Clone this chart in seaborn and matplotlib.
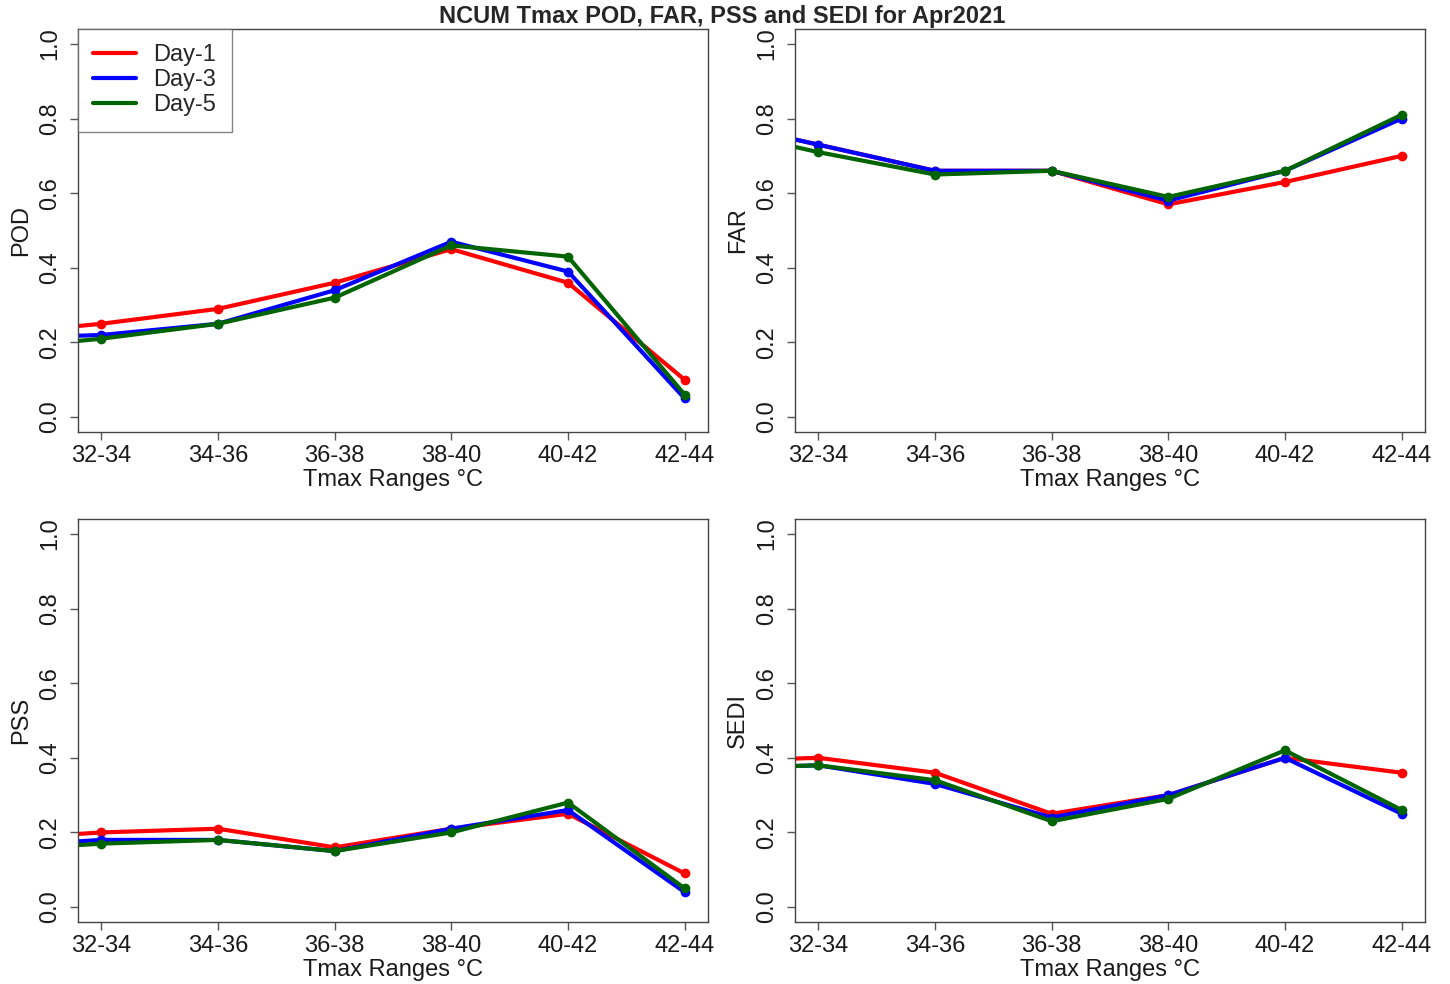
import numpy as np
import pandas as pd
import matplotlib
matplotlib.use("Agg")
import matplotlib.pyplot as plt
import seaborn as sns

# ---- data ----
# first range is drawn off-axis (clipped at the left edge, as in the reference)
ranges_all = ["30-32", "32-34", "34-36", "36-38", "38-40", "40-42", "42-44"]
shown_ranges = ranges_all[1:]
days = ["Day-1", "Day-3", "Day-5"]

pod_day1 = [0.22, 0.25, 0.29, 0.36, 0.45, 0.36, 0.10]
pod_day3 = [0.21, 0.22, 0.25, 0.34, 0.47, 0.39, 0.05]
pod_day5 = [0.18, 0.21, 0.25, 0.32, 0.46, 0.43, 0.06]

far_day1 = [0.80, 0.73, 0.66, 0.66, 0.57, 0.63, 0.70]
far_day3 = [0.80, 0.73, 0.66, 0.66, 0.58, 0.66, 0.80]
far_day5 = [0.78, 0.71, 0.65, 0.66, 0.59, 0.66, 0.81]

pss_day1 = [0.18, 0.20, 0.21, 0.16, 0.21, 0.25, 0.09]
pss_day3 = [0.16, 0.18, 0.18, 0.15, 0.21, 0.26, 0.04]
pss_day5 = [0.15, 0.17, 0.18, 0.15, 0.20, 0.28, 0.05]

sedi_day1 = [0.39, 0.40, 0.36, 0.25, 0.30, 0.40, 0.36]
sedi_day3 = [0.37, 0.38, 0.33, 0.24, 0.30, 0.40, 0.25]
sedi_day5 = [0.37, 0.38, 0.34, 0.23, 0.29, 0.42, 0.26]

yticks = [0.0, 0.2, 0.4, 0.6, 0.8, 1.0]
ytick_labels = ["0.0", "0.2", "0.4", "0.6", "0.8", "1.0"]

metrics = {
    "POD": [pod_day1, pod_day3, pod_day5],
    "FAR": [far_day1, far_day3, far_day5],
    "PSS": [pss_day1, pss_day3, pss_day5],
    "SEDI": [sedi_day1, sedi_day3, sedi_day5],
}

rows = []
for m, series in metrics.items():
    for d, vals in zip(days, series):
        for i, (r, v) in enumerate(zip(ranges_all, vals)):
            rows.append({"metric": m, "day": d, "pos": i, "range": r, "value": v})
df = pd.DataFrame(rows)

sns.set_theme(style="white")
plt.rcParams["font.family"] = ["Liberation Sans", "DejaVu Sans"]
plt.rcParams["axes.edgecolor"] = "#333333"

palette = {"Day-1": "#ff0000", "Day-3": "#0000ff", "Day-5": "#006400"}

W, H = 1450, 984
fig = plt.figure(figsize=(W / 100, H / 100), dpi=100)

boxes = {
    "POD": (78, 29, 708, 432),
    "FAR": (795, 29, 1425, 432),
    "PSS": (78, 519, 708, 922),
    "SEDI": (795, 519, 1425, 922),
}

FS = 17
for m, (x0, y0, x1, y1) in boxes.items():
    ax = fig.add_axes([x0 / W, (H - y1) / H, (x1 - x0) / W, (y1 - y0) / H])
    sub = df[df.metric == m]
    sns.lineplot(data=sub, x="pos", y="value", hue="day", hue_order=days,
                 palette=palette, marker="o", markersize=7, markeredgewidth=0,
                 linewidth=3, sort=False, ax=ax, legend=(m == "POD"))
    ax.set_xlim(0.8, 6.2)
    ax.set_ylim(-0.04, 1.04)
    ax.set_xticks(range(1, 7))
    ax.set_xticklabels(shown_ranges, fontsize=FS, color="#1a1a1a")
    ax.set_yticks(yticks)
    ax.set_yticklabels(ytick_labels, fontsize=FS, color="#1a1a1a",
                       rotation=90, va="center")
    ax.tick_params(axis="both", which="major", direction="out", length=6,
                   width=1, color="#555555", bottom=True, left=True)
    ax.tick_params(axis="x", pad=3)
    ax.tick_params(axis="y", pad=6)
    ax.set_xlabel("Tmax Ranges \u00b0C", fontsize=FS, color="#1a1a1a", labelpad=2)
    ax.set_ylabel(m, fontsize=FS, color="#1a1a1a", labelpad=5)
    for s in ax.spines.values():
        s.set_linewidth(1.0)
        s.set_color("#444444")
    if m == "POD":
        leg = ax.legend(loc="upper left", bbox_to_anchor=(0, 1), borderaxespad=0,
                        fontsize=FS, frameon=True, fancybox=False,
                        handlelength=1.8, handletextpad=0.75, labelspacing=0.13,
                        borderpad=0.65, title=None)
        leg.get_frame().set_edgecolor("#666666")
        leg.get_frame().set_linewidth(1.0)
        for h in leg.legend_handles:
            h.set_marker("")
            h.set_linewidth(3)

fig.suptitle("NCUM Tmax POD, FAR, PSS and SEDI for Apr2021", fontsize=FS,
             fontweight="bold", x=0.498, y=1 - 17 / H, va="center")

fig.savefig("out.png", dpi=100)
